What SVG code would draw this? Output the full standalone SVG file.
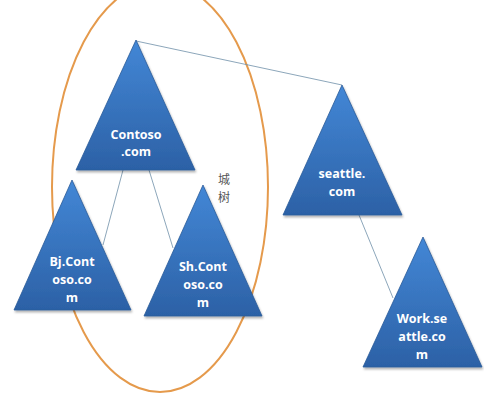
<svg xmlns="http://www.w3.org/2000/svg" width="484" height="402" viewBox="0 0 484 402">
<defs>
<linearGradient id="g" x1="0" y1="0" x2="0" y2="1">
<stop offset="0" stop-color="#4387d6"/>
<stop offset="1" stop-color="#2c61a6"/>
</linearGradient>
<filter id="sh" x="-10%" y="-10%" width="120%" height="120%">
<feDropShadow dx="1" dy="2" stdDeviation="1.2" flood-color="#000" flood-opacity="0.3"/>
</filter>
</defs>
<style>
.tri{fill:url(#g);stroke:#2a5a98;stroke-width:0.8;filter:url(#sh)}
.lbl{font-family:"Open Sans","Liberation Sans",sans-serif;font-weight:bold;font-size:12.5px;fill:#fff;text-anchor:middle}
.conn{stroke:#6f8fa8;stroke-width:0.8;fill:none}
.cjk{font-family:"Noto Sans CJK SC",sans-serif;font-size:12px;fill:#555;text-anchor:middle}
</style>
<rect width="484" height="402" fill="#fff"/>
<ellipse cx="160" cy="187" rx="108" ry="205" fill="none" stroke="#e59a4c" stroke-width="2"/>
<g id="connectors">
<line class="conn" x1="136" y1="41" x2="342" y2="85"/>
<line class="conn" x1="123" y1="170" x2="103" y2="245"/>
<line class="conn" x1="149" y1="170" x2="173" y2="248"/>
<line class="conn" x1="359" y1="215" x2="393" y2="298"/>
</g>
<g id="contoso">
<polygon class="tri" points="136,40 76,170 195,170"/>
<text class="lbl" x="136" y="139">Contoso</text>
<text class="lbl" x="136" y="156">.com</text>
</g>
<g id="bj">
<polygon class="tri" points="72,180 14,310 131,310"/>
<text class="lbl" x="72" y="266">Bj.Cont</text>
<text class="lbl" x="72" y="284">oso.co</text>
<text class="lbl" x="72" y="302">m</text>
</g>
<g id="sh">
<polygon class="tri" points="203,185 144,316 262,316"/>
<text class="lbl" x="203" y="271">Sh.Cont</text>
<text class="lbl" x="203" y="289">oso.co</text>
<text class="lbl" x="203" y="307">m</text>
</g>
<g id="seattle">
<polygon class="tri" points="342,85 283,215 402,215"/>
<text class="lbl" x="342" y="178">seattle.</text>
<text class="lbl" x="342" y="196">com</text>
</g>
<g id="work">
<polygon class="tri" points="423,237 363,367 482,367"/>
<text class="lbl" x="422" y="323">Work.se</text>
<text class="lbl" x="422" y="341">attle.co</text>
<text class="lbl" x="422" y="359">m</text>
</g>
<g id="label-forest">
<text class="cjk" x="224" y="184">城</text>
<text class="cjk" x="224" y="202">树</text>
</g>
</svg>
